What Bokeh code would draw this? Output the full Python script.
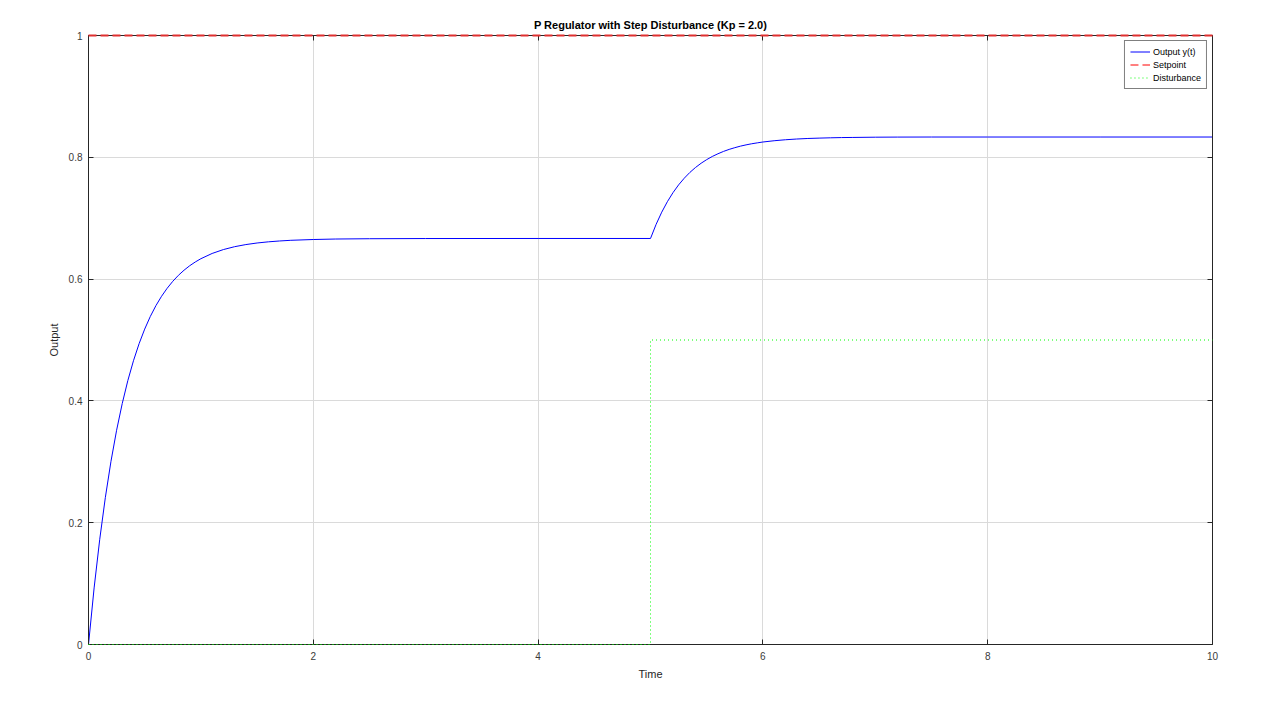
from bokeh.plotting import figure
from bokeh.models import LinearAxis, FixedTicker, Legend, LegendItem, Range1d
from bokeh.embed import file_html
from bokeh.resources import INLINE

# ---- data ----
t_out = [0, 0.05, 0.1, 0.15, 0.2, 0.25, 0.3, 0.35, 0.4, 0.45, 0.5, 0.55, 0.6, 0.65, 0.7, 0.75,
         0.8, 0.85, 0.9, 0.95, 1.0, 1.1, 1.2, 1.3, 1.4, 1.5, 1.6, 1.7, 1.8, 2.0, 2.2, 2.5, 3.0,
         4.0, 5.0,
         5.05, 5.1, 5.15, 5.2, 5.25, 5.3, 5.35, 5.4, 5.45, 5.5, 5.55, 5.6, 5.65, 5.7, 5.75,
         5.8, 5.85, 5.9, 5.95, 6.0, 6.1, 6.2, 6.3, 6.4, 6.5, 6.6, 6.7, 6.8, 7.0, 7.2, 7.5, 8.0,
         9.0, 10.0]
y_out = [0.0, 0.0929, 0.1728, 0.2416, 0.3008, 0.3518, 0.3956, 0.4334, 0.4659, 0.4939, 0.5179,
         0.5387, 0.5565, 0.5718, 0.5850, 0.5964, 0.6062, 0.6146, 0.6219, 0.6281, 0.6335, 0.6421,
         0.6485, 0.6532, 0.6567, 0.6593, 0.6612, 0.6626, 0.6637, 0.6650, 0.6658, 0.6663, 0.6666,
         0.6667, 0.6667,
         0.6899, 0.7099, 0.7271, 0.7419, 0.7547, 0.7656, 0.7751, 0.7832, 0.7902, 0.7962, 0.8014,
         0.8058, 0.8097, 0.8130, 0.8158, 0.8183, 0.8204, 0.8222, 0.8237, 0.8251, 0.8272, 0.8288,
         0.8300, 0.8309, 0.8315, 0.8320, 0.8324, 0.8326, 0.8330, 0.8332, 0.8333, 0.8333,
         0.8333, 0.8333]
t_set = [0, 10]
y_set = [1, 1]
t_dist = [0, 5, 5, 10]
y_dist = [0, 0, 0.5, 0.5]

x_ticks = [0, 2, 4, 6, 8, 10]
x_tick_labels = ["0", "2", "4", "6", "8", "10"]
y_ticks = [0, 0.2, 0.4, 0.6, 0.8, 1]
y_tick_labels = ["0", "0.2", "0.4", "0.6", "0.8", "1"]

FONT = "Liberation Sans"
FRAME = "#262626"

p = figure(width=1266, height=703, output_backend="svg", toolbar_location=None,
           x_range=Range1d(0, 10), y_range=Range1d(0, 1),
           min_border_left=88, min_border_right=54, min_border_top=35, min_border_bottom=59,
           title="P Regulator with Step Disturbance (Kp = 2.0)")
p.title.align = "center"
p.title.text_font = FONT
p.title.text_font_size = "11px"
p.title.text_font_style = "bold"
p.title.text_color = "black"
p.title.offset = 0
p.title.standoff = 9

p.outline_line_color = None
p.background_fill_color = "white"
p.border_fill_color = "white"

for ax, ticks, labels in ((p.xaxis[0], x_ticks, x_tick_labels), (p.yaxis[0], y_ticks, y_tick_labels)):
    ax.ticker = FixedTicker(ticks=ticks)
    ax.major_label_overrides = {t: l for t, l in zip(ticks, labels)}
    ax.major_tick_in = 5
    ax.major_tick_out = 0
    ax.minor_tick_line_color = None
    ax.axis_line_color = FRAME
    ax.major_tick_line_color = FRAME
    ax.major_label_text_font = FONT
    ax.major_label_text_font_size = "10px"
    ax.major_label_text_color = "#3a3a3a"
    ax.axis_label_text_font = FONT
    ax.axis_label_text_font_size = "11px"
    ax.axis_label_text_font_style = "normal"
    ax.axis_label_text_color = "#262626"

p.xaxis[0].axis_label = "Time"
p.xaxis[0].major_label_standoff = 7
p.xaxis[0].axis_label_standoff = 5
p.yaxis[0].axis_label = "Output"
p.yaxis[0].major_label_standoff = 6
p.yaxis[0].axis_label_standoff = 6

for loc, ticks in (("right", y_ticks), ("above", x_ticks)):
    ax = LinearAxis(ticker=FixedTicker(ticks=ticks), major_tick_in=5, major_tick_out=0,
                    minor_tick_line_color=None,
                    major_label_overrides={t: "" for t in ticks},
                    major_label_standoff=0, axis_line_color=FRAME, major_tick_line_color=FRAME)
    p.add_layout(ax, loc)

p.xgrid.ticker = FixedTicker(ticks=x_ticks)
p.ygrid.ticker = FixedTicker(ticks=y_ticks)
p.grid.grid_line_color = "#dadada"
p.grid.grid_line_width = 1

r_out = p.line(t_out, y_out, line_color="#0000ff", line_width=1)
# thin setpoint line (used for the legend) and a visible one drawn over the frame
r_set = p.line(t_set, y_set, line_color="#ff0000", line_width=1, line_dash="8 4")
p.line(t_set, y_set, line_color="#e03030", line_width=2, line_dash="8 4", level="overlay")
r_dist = p.line(t_dist, y_dist, line_color="#00ff00", line_width=1, line_dash="1 3",
                level="overlay")

legend = Legend(items=[LegendItem(label="Output y(t)", renderers=[r_out]),
                       LegendItem(label="Setpoint", renderers=[r_set]),
                       LegendItem(label="Disturbance", renderers=[r_dist])],
                location="top_right")
legend.label_text_font = FONT
legend.label_text_font_size = "9px"
legend.label_text_color = "black"
legend.label_height = 10
legend.glyph_height = 11
legend.glyph_width = 20
legend.label_standoff = 3
legend.spacing = 2
legend.padding = 5
legend.margin = 5
legend.border_line_color = "black"
legend.border_line_width = 1
legend.background_fill_alpha = 1
p.add_layout(legend)

open("out.html", "w").write(file_html(p, INLINE))
